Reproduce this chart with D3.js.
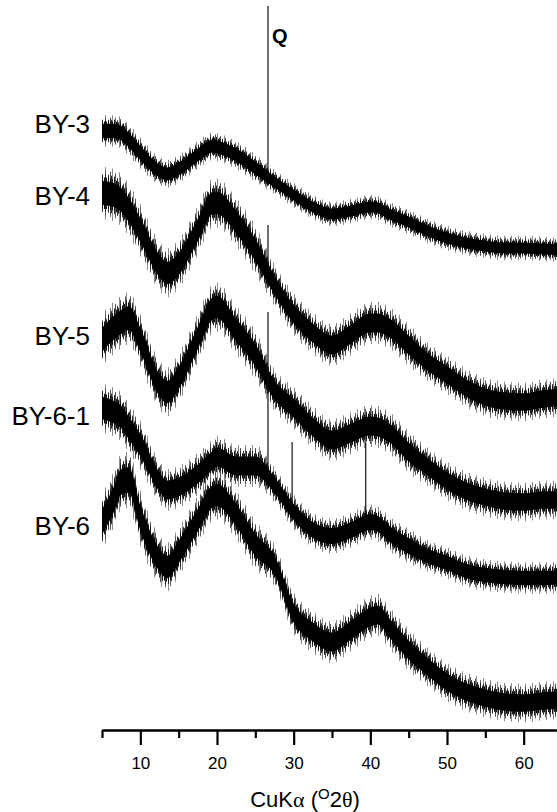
<!DOCTYPE html>
<html>
<head>
<meta charset="utf-8">
<script src="https://cdn.jsdelivr.net/npm/d3@7"></script>
<style>
  body { margin: 0; background: #fff; }
  svg { display: block; font-family: "Liberation Sans", Arial, sans-serif; }
</style>
</head>
<body>
<svg></svg>
<script>
const width = 557;
const height = 812;
const axisY = 730;

// 2-theta sample positions (degrees)
const twoTheta = [5, 6.5, 7.5, 8.5, 10, 12.5, 13.5, 15, 17.5, 19.5, 20, 22.5, 25, 27.5, 30,
  32.5, 35, 37.5, 40, 41, 42.5, 45, 47.5, 50, 52.5, 55, 57.5, 60, 62.5, 65];

const samples = ["BY-3", "BY-4", "BY-5", "BY-6-1", "BY-6"];
const offsets = [4700, 3200, 2200, 1400, 0];

// smoothed intensity (a.u.)
const by3 = [1290, 1290, 1270, 1200, 1070, 890, 860, 910, 1050, 1140, 1130, 1050, 920, 780, 650,
  530, 460, 490, 530, 520, 460, 380, 290, 220, 170, 140, 120, 120, 110, 100];
const by4 = [2170, 2150, 2100, 2000, 1800, 1440, 1370, 1460, 1800, 2070, 2070, 1880, 1600, 1250, 960,
  770, 650, 760, 870, 870, 820, 650, 480, 350, 220, 130, 90, 80, 110, 130];
const by5 = [1700, 1820, 1880, 1920, 1700, 1250, 1180, 1320, 1720, 2020, 2030, 1800, 1550, 1200, 1020,
  830, 700, 770, 840, 830, 770, 580, 430, 290, 190, 130, 90, 80, 100, 100];
const by61 = [1820, 1780, 1730, 1620, 1450, 1080, 1000, 1030, 1160, 1300, 1330, 1240, 1240, 1050, 780,
  600, 540, 600, 680, 660, 560, 440, 340, 270, 190, 150, 130, 120, 120, 130];
const by6 = [2080, 2300, 2480, 2500, 2120, 1700, 1630, 1780, 2100, 2340, 2350, 2150, 1850, 1650, 1170,
  980, 880, 1000, 1130, 1150, 1020, 800, 630, 480, 380, 320, 280, 270, 290, 300];
const intensities = [by3, by4, by5, by61, by6];

// noise half-width (a.u.) by 2-theta range
const noiseBreaks = [11, 26, 46];
const noise3 = [90, 80, 70, 70];
const noise4 = [150, 140, 120, 110];
const noise5 = [150, 140, 120, 110];
const noise61 = [140, 120, 100, 90];
const noise6 = [160, 140, 120, 110];
const noiseLevels = [noise3, noise4, noise5, noise61, noise6];

// sharp reflections
const peakSample = ["BY-3", "BY-4", "BY-6-1", "BY-6-1", "BY-6-1"];
const peakPos = [26.65, 26.65, 26.65, 29.8, 39.4];
const peakBase = [830, 1420, 1120, 840, 700];
const peakTop = [2540, 1850, 2780, 1480, 1470];

const majorTicks = [10, 20, 30, 40, 50, 60];
const minorTicks = [5, 15, 25, 35, 45, 55, 65];

const svg = d3.select("svg").attr("width", width).attr("height", height);

const x = d3.scaleLinear().domain([5, 65]).range([102, 562]);
const y = d3.scaleLinear().domain([0, 7300]).range([axisY, 0]);

const series = samples.map((name, i) => ({
  name,
  offset: offsets[i],
  values: intensities[i],
  noise: d3.scaleThreshold().domain(noiseBreaks).range(noiseLevels[i])
}));

// stripe patterns with co-prime periods, so stacked bands give uneven spikes
const defs = svg.append("defs");
const stripes = [
  { id: "st7", period: 7, color: "#8a8a8a" },
  { id: "st5", period: 5, color: "#555" },
  { id: "st3", period: 3, color: "#2a2a2a" },
  { id: "st2", period: 2, color: "#111" }
];
stripes.forEach((s) => {
  const p = defs.append("pattern")
    .attr("id", s.id)
    .attr("patternUnits", "userSpaceOnUse")
    .attr("width", s.period)
    .attr("height", 10);
  p.append("rect").attr("width", 1).attr("height", 10).attr("fill", s.color);
});

const band = (s, k) => d3.area()
  .x((d, i) => x(twoTheta[i]))
  .y0((d, i) => y(s.offset + d - k * s.noise(twoTheta[i])))
  .y1((d, i) => y(s.offset + d + k * s.noise(twoTheta[i])))
  .curve(d3.curveMonotoneX)(s.values);

const layers = [
  { k: 1.75, fill: "url(#st7)" },
  { k: 1.5, fill: "url(#st5)" },
  { k: 1.25, fill: "url(#st3)" },
  { k: 1.05, fill: "url(#st2)" },
  { k: 0.8, fill: "#000" }
];

const traces = svg.append("g").attr("class", "traces");
series.forEach((s) => {
  const g = traces.append("g").attr("class", "trace");
  layers.forEach((l) => {
    g.append("path").attr("d", band(s, l.k)).attr("fill", l.fill);
  });
});

// peaks
const offsetOf = (name) => offsets[samples.indexOf(name)];
traces.selectAll("line.peak")
  .data(peakPos)
  .enter()
  .append("line")
  .attr("class", "peak")
  .attr("x1", (d) => x(d))
  .attr("x2", (d) => x(d))
  .attr("y1", (d, i) => y(offsetOf(peakSample[i]) + peakBase[i]))
  .attr("y2", (d, i) => y(offsetOf(peakSample[i]) + peakTop[i]))
  .attr("stroke", "#111")
  .attr("stroke-width", 1.2);

// sample labels
const labelNudge = [-7, 3, -4, 8, 4];
svg.append("g")
  .selectAll("text")
  .data(series)
  .enter()
  .append("text")
  .attr("x", 90)
  .attr("y", (d, i) => y(d.offset + d.values[0]) + labelNudge[i])
  .attr("dy", "0.36em")
  .attr("text-anchor", "end")
  .attr("font-size", 26)
  .attr("fill", "#000")
  .text((d) => d.name);

svg.append("text")
  .attr("x", x(26.65) + 4)
  .attr("y", 43)
  .attr("font-size", 20)
  .attr("font-weight", "bold")
  .attr("fill", "#000")
  .text("Q");

// axis
const xAxis = d3.axisBottom(x)
  .tickValues(majorTicks)
  .tickSize(15)
  .tickSizeOuter(0)
  .tickPadding(12);

const axisG = svg.append("g")
  .attr("transform", `translate(0, ${axisY})`)
  .call(xAxis);
axisG.select(".domain").attr("stroke", "#000").attr("stroke-width", 2.6);
axisG.selectAll(".tick line").attr("stroke", "#000").attr("stroke-width", 2.2);
axisG.selectAll(".tick text")
  .attr("font-family", "'Liberation Sans', Arial, sans-serif")
  .attr("font-size", 17)
  .attr("fill", "#000");

const minorG = svg.append("g")
  .attr("transform", `translate(0, ${axisY})`)
  .call(d3.axisBottom(x).tickValues(minorTicks).tickSize(8).tickFormat(""));
minorG.select(".domain").remove();
minorG.selectAll(".tick line").attr("stroke", "#000").attr("stroke-width", 2.2);

const title = svg.append("text")
  .attr("x", 305)
  .attr("y", 807)
  .attr("text-anchor", "middle")
  .attr("font-size", 22)
  .attr("fill", "#000");
title.append("tspan").text("CuK");
title.append("tspan").attr("font-family", "'Liberation Serif', serif").text("α");
title.append("tspan").text(" (");
title.append("tspan").attr("font-size", 15).attr("dy", -8).text("O");
title.append("tspan").attr("dy", 8).text("2");
title.append("tspan").attr("font-family", "'Liberation Serif', serif").text("θ");
title.append("tspan").text(")");
</script>
</body>
</html>
